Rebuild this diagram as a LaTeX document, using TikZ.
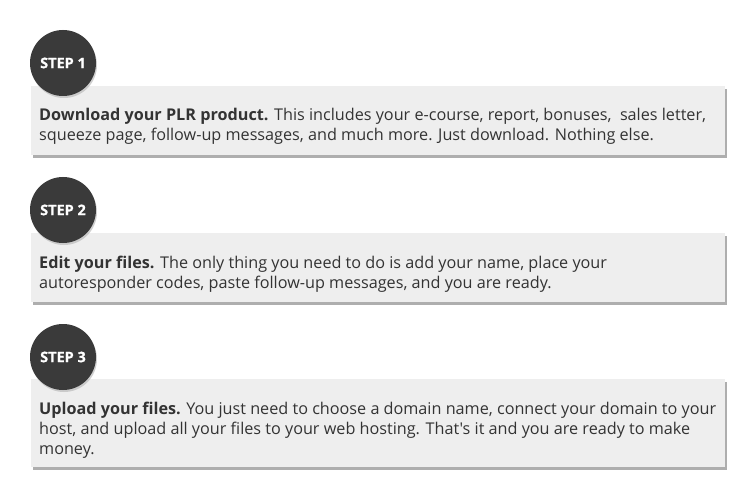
\documentclass[tikz,border=0pt]{standalone}
\usepackage{fontspec}
\setmainfont{Open Sans}
\newfontfamily\osplain{Open Sans}
\newfontfamily\osstep{Open Sans}[FakeBold=0.8]
\usetikzlibrary{shadows}
\definecolor{boxfill}{HTML}{EEEEEE}
\definecolor{txt}{HTML}{333333}
\definecolor{circ}{HTML}{3A3A3A}
\tikzset{
  stepbox/.style={fill=boxfill, draw=none, minimum width=694pt, anchor=north west, inner sep=0pt,
    drop shadow={shadow xshift=2pt, shadow yshift=-3pt, fill=black!45, opacity=0.7}},
  stepcirc/.style={circle, fill=circ, minimum size=66pt, inner sep=0pt,
    text=white, font=\osstep\fontsize{14.5}{16}\selectfont\bfseries,
    drop shadow={shadow xshift=1pt, shadow yshift=-2pt, fill=black!30, opacity=0.6}},
  steptext/.style={anchor=north west, inner sep=0pt, align=left, text=txt,
    font=\osplain\fontsize{16.2}{20}\selectfont}
}
\begin{document}
\begin{tikzpicture}[x=1pt,y=-1pt]
\useasboundingbox[fill=white] (0,0) rectangle (750,500);
% step 1
\node[stepbox, minimum height=69pt] (b1) at (31,86) {};
\node[stepcirc] (c1) at (63,63) {STEP 1};
\node[steptext] (t1) at (39,107.7) {\textbf{Download your PLR product.} This includes your e-course, report, bonuses, \ sales letter,\\squeeze page, follow-up messages, and much more. Just download. Nothing else.};
% step 2
\node[stepbox, minimum height=69pt] (b2) at (31,233) {};
\node[stepcirc] (c2) at (63,210) {STEP 2};
\node[steptext] (t2) at (39,255.9) {\textbf{Edit your files.} The only thing you need to do is add your name, place your\\autoresponder codes, paste follow-up messages, and you are ready.};
% step 3
\node[stepbox, minimum height=88pt] (b3) at (31,379) {};
\node[stepcirc] (c3) at (63,357) {STEP 3};
\node[steptext] (t3) at (39,401.7) {\textbf{Upload your files.} You just need to choose a domain name, connect your domain to your\\host, and upload all your files to your web hosting. That's it and you are ready to make\\money.};
\end{tikzpicture}
\end{document}
